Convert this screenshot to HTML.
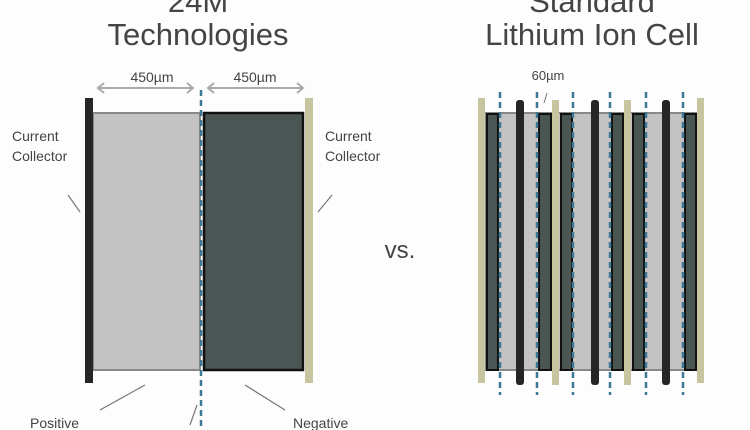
<!DOCTYPE html>
<html><head><style>body{margin:0;background:#fff}svg{display:block}text{font-family:"Liberation Sans",sans-serif;fill:#444}</style></head><body>
<svg width="750" height="430" viewBox="0 0 750 430">
<rect width="750" height="430" fill="#fdfdfd"/>
<text x="198" y="12" font-size="31" text-anchor="middle">24M</text>
<text x="198" y="45" font-size="31" text-anchor="middle">Technologies</text>
<text x="592" y="12" font-size="31" text-anchor="middle">Standard</text>
<text x="592" y="45" font-size="31" text-anchor="middle">Lithium Ion Cell</text>
<text x="152" y="82" font-size="14" text-anchor="middle">450µm</text>
<text x="255" y="82" font-size="14" text-anchor="middle">450µm</text>
<g stroke="#aaa" stroke-width="2" fill="none">
<line x1="98" y1="88" x2="193" y2="88"/><polyline points="104,83 98,88 104,93"/><polyline points="187,83 193,88 187,93"/>
<line x1="208" y1="88" x2="303" y2="88"/><polyline points="214,83 208,88 214,93"/><polyline points="297,83 303,88 297,93"/>
</g>
<rect x="93" y="113" width="107" height="257" fill="#c3c3c3" stroke="#888" stroke-width="2"/>
<rect x="204" y="113" width="99" height="257" fill="#4a5654" stroke="#111" stroke-width="2.5"/>
<rect x="85" y="98" width="8" height="285" fill="#262626"/>
<rect x="305" y="98" width="8" height="285" fill="#c7c59f"/>
<line x1="201" y1="90" x2="201" y2="430" stroke="#3d7896" stroke-width="2.5" stroke-dasharray="6,4"/>
<text x="12" y="141" font-size="14">Current</text><text x="12" y="161" font-size="14">Collector</text>
<text x="325" y="141" font-size="14">Current</text><text x="325" y="161" font-size="14">Collector</text>
<g stroke="#777" stroke-width="1.2">
<line x1="68" y1="195" x2="80" y2="212"/><line x1="332" y1="195" x2="318" y2="212"/>
<line x1="100" y1="410" x2="145" y2="385"/><line x1="190" y1="425" x2="197" y2="405"/><line x1="245" y1="385" x2="285" y2="410"/>
</g>
<text x="30" y="428" font-size="14">Positive</text>
<text x="293" y="428" font-size="14">Negative</text>
<text x="400" y="258" font-size="24" text-anchor="middle">vs.</text>
<text x="548" y="80" font-size="13" text-anchor="middle">60µm</text>
<line x1="547" y1="93" x2="544" y2="103" stroke="#777"/>
<rect x="486" y="113" width="211" height="257" fill="#c3c3c3" stroke="#888" stroke-width="2"/>
<g fill="#4a5654" stroke="#111" stroke-width="2">
<rect x="487" y="114" width="11" height="256"/><rect x="539" y="114" width="12" height="256"/>
<rect x="561" y="114" width="11" height="256"/><rect x="612" y="114" width="11" height="256"/>
<rect x="633" y="114" width="11" height="256"/><rect x="685" y="114" width="11" height="256"/>
</g>
<g fill="#262626"><rect x="516" y="100" width="8" height="285" rx="3"/><rect x="591" y="100" width="8" height="285" rx="3"/><rect x="662" y="100" width="8" height="285" rx="3"/></g>
<g fill="#c7c59f"><rect x="478" y="98" width="7" height="285"/><rect x="552" y="100" width="7" height="285"/><rect x="624" y="100" width="7" height="285"/><rect x="697" y="98" width="7" height="285"/></g>
<g stroke="#3d7896" stroke-width="2.5" stroke-dasharray="6,4">
<line x1="500" y1="92" x2="500" y2="395"/><line x1="537" y1="92" x2="537" y2="395"/><line x1="573" y1="92" x2="573" y2="395"/>
<line x1="610" y1="92" x2="610" y2="395"/><line x1="646" y1="92" x2="646" y2="395"/><line x1="683" y1="92" x2="683" y2="395"/>
</g>
</svg>
</body></html>
